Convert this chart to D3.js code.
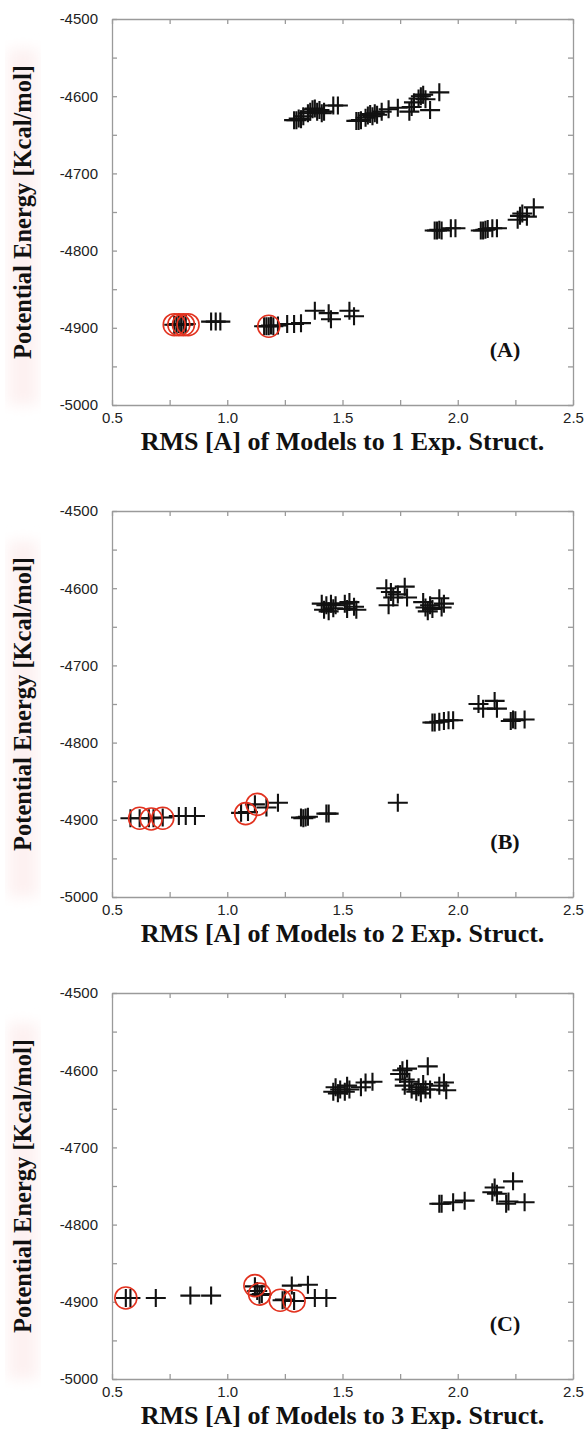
<!DOCTYPE html>
<html>
<head>
<meta charset="utf-8">
<script src="https://cdn.jsdelivr.net/npm/d3@7"></script>
<style>
  body { margin: 0; background: #fff; }
  .tick text { font-family: "Liberation Sans", Arial, sans-serif; font-size: 15px; fill: #222; }
  .axis path, .axis line { stroke: #9a9a9a; stroke-width: 1.3; }
  .title { font-family: "Liberation Serif", "Times New Roman", serif; font-weight: bold; fill: #111; }
</style>
</head>
<body>
<div id="chart"></div>
<script>
// Axis ticks
const xTicks = [0.5, 0.75, 1.0, 1.25, 1.5, 1.75, 2.0, 2.25, 2.5];
const yTicks = [-5000, -4950, -4900, -4850, -4800, -4750, -4700, -4650, -4600, -4550, -4500];

// Panel A: models vs 1 experimental structure  [rms, energy]
const modelsA = [
  [1.29,-4631],[1.30,-4631],[1.31,-4629],[1.32,-4630],[1.33,-4626],[1.35,-4622],[1.36,-4620],[1.37,-4617],
  [1.38,-4616],[1.39,-4620],[1.40,-4618],[1.41,-4622],[1.42,-4620],[1.46,-4612],[1.48,-4612],
  [1.56,-4632],[1.57,-4632],[1.58,-4631],[1.60,-4628],[1.61,-4625],[1.62,-4623],[1.63,-4626],[1.64,-4622],
  [1.65,-4624],[1.67,-4620],[1.70,-4617],[1.74,-4615],[1.79,-4620],[1.80,-4614],[1.81,-4608],[1.83,-4603],
  [1.84,-4600],[1.85,-4598],[1.86,-4604],[1.88,-4618],[1.92,-4595],
  [1.90,-4774],[1.91,-4774],[1.92,-4773],[1.93,-4774],[1.97,-4771],[1.99,-4771],[2.10,-4774],[2.11,-4774],
  [2.12,-4773],[2.13,-4772],[2.15,-4771],[2.17,-4771],[2.26,-4760],[2.27,-4755],[2.28,-4752],[2.30,-4756],[2.33,-4744],
  [0.77,-4896],[0.78,-4896],[0.79,-4895],[0.80,-4896],[0.81,-4896],[0.82,-4895],[0.93,-4892],[0.95,-4892],
  [0.97,-4892],[1.16,-4898],[1.17,-4898],[1.18,-4898],[1.19,-4897],[1.20,-4898],[1.22,-4897],[1.26,-4895],
  [1.29,-4895],[1.32,-4894],[1.38,-4878],[1.44,-4881],[1.45,-4889],[1.53,-4878],[1.55,-4885]
];
const circledA = [[0.77,-4896],[0.79,-4896],[0.81,-4896],[0.83,-4896],[1.18,-4898]];

// Panel B: models vs 2 experimental structures
const modelsB = [
  [1.41,-4620],[1.42,-4628],[1.43,-4622],[1.44,-4630],[1.45,-4620],[1.46,-4626],[1.47,-4622],[1.51,-4620],
  [1.52,-4627],[1.53,-4618],[1.55,-4624],[1.56,-4628],[1.69,-4600],[1.70,-4622],[1.71,-4605],[1.72,-4612],
  [1.74,-4608],[1.77,-4598],[1.78,-4612],[1.85,-4618],[1.86,-4625],[1.87,-4630],[1.88,-4622],[1.89,-4627],
  [1.92,-4613],[1.93,-4625],[1.94,-4620],
  [1.89,-4774],[1.90,-4774],[1.92,-4773],[1.94,-4772],[1.96,-4771],[1.98,-4771],[2.09,-4750],[2.11,-4756],
  [2.16,-4746],[2.17,-4756],[2.23,-4772],[2.24,-4770],[2.25,-4771],[2.29,-4770],
  [0.58,-4898],[0.62,-4898],[0.66,-4898],[0.68,-4898],[0.72,-4897],[0.79,-4895],[0.82,-4895],[0.86,-4895],
  [1.06,-4891],[1.09,-4890],[1.12,-4880],[1.17,-4884],[1.22,-4878],[1.32,-4897],[1.33,-4898],[1.34,-4897],
  [1.35,-4896],[1.43,-4892],[1.44,-4892],[1.74,-4878]
];
const circledB = [[0.62,-4898],[0.67,-4899],[0.72,-4898],[1.08,-4892],[1.13,-4880]];

// Panel C: models vs 3 experimental structures
const modelsC = [
  [1.46,-4628],[1.47,-4622],[1.48,-4630],[1.49,-4625],[1.51,-4628],[1.52,-4620],[1.53,-4625],[1.58,-4622],
  [1.60,-4616],[1.63,-4615],[1.75,-4605],[1.76,-4600],[1.77,-4612],[1.77,-4620],[1.78,-4598],[1.79,-4615],
  [1.80,-4625],[1.82,-4628],[1.83,-4622],[1.84,-4630],[1.85,-4618],[1.86,-4625],[1.87,-4595],[1.88,-4625],
  [1.92,-4620],[1.94,-4616],[1.95,-4626],
  [1.92,-4773],[1.93,-4773],[1.98,-4771],[2.03,-4769],[2.15,-4758],[2.16,-4752],[2.17,-4760],[2.21,-4773],
  [2.22,-4770],[2.24,-4744],[2.29,-4771],
  [0.56,-4895],[0.58,-4895],[0.69,-4895],[0.84,-4892],[0.93,-4892],[1.12,-4880],[1.13,-4886],[1.14,-4891],
  [1.15,-4890],[1.24,-4898],[1.25,-4897],[1.29,-4899],[1.28,-4879],[1.35,-4878],[1.38,-4895],[1.43,-4895]
];
const circledC = [[0.56,-4895],[1.12,-4879],[1.14,-4890],[1.23,-4898],[1.29,-4899]];

const panels = [
  {label: "(A)", n: 1, models: modelsA, circled: circledA, top: 19},
  {label: "(B)", n: 2, models: modelsB, circled: circledB, top: 511},
  {label: "(C)", n: 3, models: modelsC, circled: circledC, top: 993}
];

const W = 586, H = 1432;
const left = 112, plotW = 461, plotH = 386;

const svg = d3.select("#chart").append("svg")
    .attr("width", W)
    .attr("height", H);

// faint pink smudge behind the y titles (scan artifact)
const defs = svg.append("defs");
defs.append("filter").attr("id", "blur")
    .append("feGaussianBlur").attr("stdDeviation", 7);

const x = d3.scaleLinear().domain([0.5, 2.5]).range([0, plotW]);
const y = d3.scaleLinear().domain([-5000, -4500]).range([plotH, 0]);

panels.forEach(p => {
  const g = svg.append("g").attr("transform", "translate(" + left + "," + p.top + ")");

  g.append("rect")
      .attr("x", -104).attr("y", 30)
      .attr("width", 30).attr("height", plotH - 30)
      .attr("fill", "#fdf1f1")
      .attr("filter", "url(#blur)");

  const xMajor = d => Math.abs(d * 2 - Math.round(d * 2)) < 1e-6;
  const yMajor = d => d % 100 === 0;

  g.append("g").attr("class", "axis")
      .attr("transform", "translate(0," + plotH + ")")
      .call(d3.axisBottom(x).tickValues(xTicks).tickSize(-5).tickSizeOuter(0).tickPadding(7)
        .tickFormat(d => xMajor(d) ? d3.format(".1f")(d) : ""));
  g.append("g").attr("class", "axis")
      .call(d3.axisTop(x).tickValues(xTicks).tickSize(-5).tickSizeOuter(0).tickFormat(""));
  g.append("g").attr("class", "axis")
      .call(d3.axisLeft(y).tickValues(yTicks).tickSize(-5).tickSizeOuter(0).tickPadding(14)
        .tickFormat(d => yMajor(d) ? d : ""));
  g.append("g").attr("class", "axis")
      .attr("transform", "translate(" + plotW + ",0)")
      .call(d3.axisRight(y).tickValues(yTicks).tickSize(-5).tickSizeOuter(0).tickFormat(""));

  // crosses
  g.append("g").selectAll("path")
      .data(p.models)
      .join("path")
      .attr("d", d => "M" + (x(d[0]) - 10) + "," + y(d[1]) + "h20M" + x(d[0]) + "," + (y(d[1]) - 9) + "v18")
      .attr("stroke", "#111")
      .attr("stroke-width", 2.1)
      .attr("fill", "none");

  // red circles
  g.append("g").selectAll("circle")
      .data(p.circled)
      .join("circle")
      .attr("cx", d => x(d[0]))
      .attr("cy", d => y(d[1]))
      .attr("r", 11)
      .attr("fill", "none")
      .attr("stroke", "#e2321f")
      .attr("stroke-width", 1.6);

  g.append("text")
      .attr("class", "title")
      .attr("x", 393)
      .attr("y", 338)
      .attr("text-anchor", "middle")
      .style("font-size", "22px")
      .text(p.label);

  g.append("text")
      .attr("class", "title")
      .attr("x", plotW / 2)
      .attr("y", plotH + 45)
      .attr("text-anchor", "middle")
      .style("font-size", "26px")
      .text("RMS [A] of Models to " + p.n + " Exp. Struct.");

  g.append("text")
      .attr("class", "title")
      .attr("transform", "translate(-81," + (plotH / 2) + ") rotate(-90)")
      .attr("text-anchor", "middle")
      .style("font-size", "24.5px")
      .text("Potential Energy [Kcal/mol]");
});
</script>
</body>
</html>
